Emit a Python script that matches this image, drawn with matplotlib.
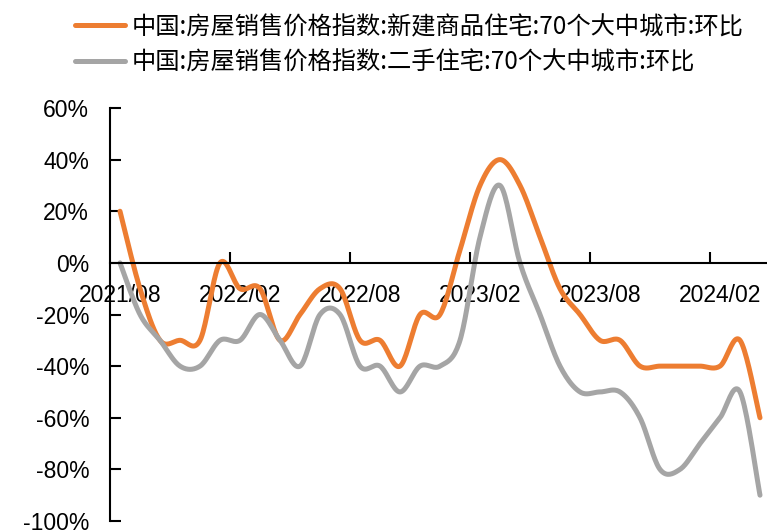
import matplotlib
matplotlib.use('Agg')
import matplotlib.pyplot as plt
import numpy as np

plt.rcParams['font.family'] = ['Liberation Sans', 'Noto Sans CJK SC', 'DejaVu Sans']

# 数据 (2021/08 - 2024/04, 环比, %)
months = ['2021/08', '2021/09', '2021/10', '2021/11', '2021/12', '2022/01',
          '2022/02', '2022/03', '2022/04', '2022/05', '2022/06', '2022/07',
          '2022/08', '2022/09', '2022/10', '2022/11', '2022/12', '2023/01',
          '2023/02', '2023/03', '2023/04', '2023/05', '2023/06', '2023/07',
          '2023/08', '2023/09', '2023/10', '2023/11', '2023/12', '2024/01',
          '2024/02', '2024/03', '2024/04']
new_home = [20, -10, -30, -30, -30, 0,
            -10, -10, -30, -20, -10, -10,
            -30, -30, -40, -20, -20, 5,
            30, 40, 30, 10, -10, -20,
            -30, -30, -40, -40, -40, -40,
            -40, -30, -60]
second_home = [0, -20, -30, -40, -40, -30,
               -30, -20, -30, -40, -20, -20,
               -40, -40, -50, -40, -40, -30,
               10, 30, 0, -20, -40, -50,
               -50, -50, -60, -80, -80, -70,
               -60, -50, -90]
label_new = '中国:房屋销售价格指数:新建商品住宅:70个大中城市:环比'
label_second = '中国:房屋销售价格指数:二手住宅:70个大中城市:环比'

orange = '#ED7D31'
gray = '#A5A5A5'


# 平滑曲线 (类似 Excel 的平滑线)
def smooth(vals, n=20):
    x = np.arange(len(vals), dtype=float)
    y = np.array(vals, dtype=float)
    px = np.concatenate([[x[0]], x, [x[-1]]])
    py = np.concatenate([[y[0]], y, [y[-1]]])
    xs, ys = [], []
    t = np.linspace(0, 1, n, endpoint=False)
    for i in range(1, len(px) - 2):
        p0, p1, p2, p3 = (np.array([px[j], py[j]]) for j in range(i - 1, i + 3))
        c1 = p1 + (p2 - p0) / 6
        c2 = p2 - (p3 - p1) / 6
        b = ((1 - t) ** 3)[:, None] * p1 + (3 * (1 - t) ** 2 * t)[:, None] * c1 \
            + (3 * (1 - t) * t ** 2)[:, None] * c2 + (t ** 3)[:, None] * p2
        xs.extend(b[:, 0])
        ys.extend(b[:, 1])
    xs.append(x[-1])
    ys.append(y[-1])
    return np.array(xs), np.array(ys)


fig = plt.figure(figsize=(7.67, 5.31), dpi=100)
ax = fig.add_axes([110 / 767, 1 - 521 / 531, 657 / 767, 413 / 531])

x1, y1 = smooth(new_home)
x2, y2 = smooth(second_home)
l1, = ax.plot(x1, y1, color=orange, lw=3.6, solid_capstyle='round', label=label_new)
l2, = ax.plot(x2, y2, color=gray, lw=3.6, solid_capstyle='round', label=label_second)

ax.set_xlim(-0.5, -0.5 + 657 / 20)
ax.set_ylim(-100, 60)

ax.spines['top'].set_visible(False)
ax.spines['right'].set_visible(False)
ax.spines['bottom'].set_position(('data', 0))
ax.spines['left'].set_linewidth(1.5)
ax.spines['bottom'].set_linewidth(1.5)

yt = np.arange(-100, 61, 20)
ax.set_yticks(yt)
ax.set_yticklabels([f'{v}%' for v in yt])
ax.tick_params(axis='y', direction='in', length=8, width=1.5, pad=15, labelsize=16.5)

pos = np.arange(0, len(months), 6)
ax.set_xticks(pos)
ax.set_xticklabels([months[i] for i in pos])
ax.set_xticks(np.arange(5.5, len(months), 6), minor=True)
ax.tick_params(axis='x', which='major', length=0, pad=15, labelsize=16.5)
ax.tick_params(axis='x', which='minor', direction='in', length=8, width=1.5)

fig.legend(handles=[l1, l2], loc='upper left', bbox_to_anchor=(75 / 767, 1 - 14 / 531),
           frameon=False, handlelength=2.05, handletextpad=0.3, labelspacing=0.4,
           borderpad=0, borderaxespad=0,
           prop={'family': ['Noto Sans CJK SC', 'DejaVu Sans'], 'size': 17.5})

fig.savefig('out.png', dpi=100)
